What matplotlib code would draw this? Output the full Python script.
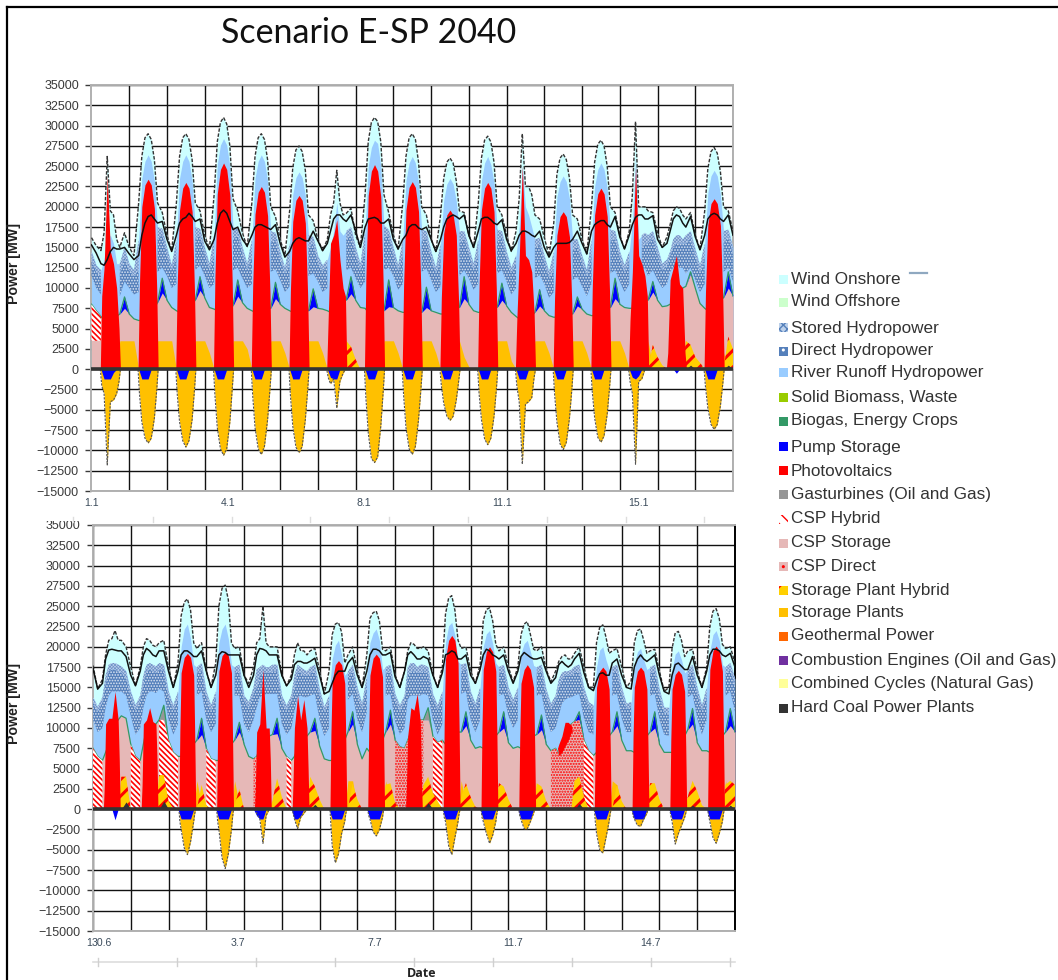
import numpy as np
import matplotlib
matplotlib.use("Agg")
import matplotlib.pyplot as plt
from matplotlib.patches import Rectangle
from matplotlib.lines import Line2D
from matplotlib.transforms import Bbox

# All values below are in units of 100 MW.
# Day rows use the hours 0,3,6,8,10,12,14,16,18,21.
HOURS = [0, 3, 6, 8, 10, 12, 14, 16, 18, 21]
# Solar-day rows (photovoltaics and negative storage) use these hours, zero at both ends.
TOP_SUN_HOURS = [5.6, 6.5, 8, 10, 12, 14, 16, 17.5, 18.4]
BOT_SUN_HOURS = [6.6, 7.2, 8, 10, 12, 14, 16, 16.7, 17.3]
N_DAYS = 17

top_total = [
 [162,152,146,168,262,195,190,160,150,168],[150,140,205,262,285,290,283,258,205,193],
 [165,146,205,262,285,290,283,258,205,195],[165,148,215,280,304,310,302,275,210,195],
 [168,150,205,262,285,290,283,258,200,188],[160,140,195,248,270,275,268,245,190,183],
 [160,146,160,190,205,245,205,190,192,198],[165,150,215,280,304,310,305,280,215,193],
 [165,148,205,262,285,290,283,255,200,190],[160,145,190,235,255,260,254,232,195,193],
 [165,150,205,260,282,287,280,255,200,190],[165,145,170,210,290,225,225,215,190,185],
 [162,140,180,240,260,265,258,235,190,185],[160,142,200,255,277,282,275,250,200,193],
 [165,148,170,215,305,200,200,200,195,193],[168,150,163,178,195,200,198,190,185,193],
 [165,148,195,247,268,273,266,243,200,195]]
top_total_end = 170
top_hydro = [
 [145,128,122,135,160,165,155,130,130,150],[130,122,160,235,256,264,256,232,175,173],
 [150,128,160,235,256,264,256,232,175,173],[150,130,165,252,276,284,276,250,175,173],
 [150,130,160,235,256,264,256,232,170,168],[145,125,155,215,236,243,236,214,165,163],
 [140,128,135,150,170,205,170,165,170,175],[150,130,170,250,273,282,278,250,177,172],
 [150,128,160,232,254,262,254,230,172,170],[145,125,155,208,228,235,228,207,170,170],
 [150,130,160,232,254,262,252,230,172,170],[145,125,140,175,250,200,190,175,160,162],
 [140,120,145,212,231,238,231,210,160,160],[140,122,160,225,246,254,246,223,172,170],
 [145,128,145,180,260,160,165,168,165,170],[150,130,135,145,160,165,165,160,165,170],
 [148,128,155,217,238,245,238,215,170,172]]
top_hydro_end = 150
top_csp = [
 [80,72,65,60,60,60,60,65,68,75],[68,62,60,60,60,65,70,75,82,94],
 [85,76,72,70,70,70,75,80,85,97],[88,76,74,72,72,72,75,78,78,90],
 [82,75,72,70,70,70,75,75,75,87],[80,75,72,70,70,70,72,72,72,77],
 [75,74,72,70,70,70,80,85,85,93],[85,76,75,70,70,70,70,72,72,77],
 [76,72,70,70,70,70,70,70,70,76],[72,70,68,68,68,70,72,75,76,87],
 [80,72,70,70,70,72,75,75,76,85],[78,70,65,62,60,60,62,65,70,78],
 [72,66,64,64,64,66,68,68,68,78],[74,68,66,66,66,70,72,75,76,87],
 [80,76,75,75,75,80,85,85,85,95],[85,77,78,80,85,90,95,100,102,118],
 [100,81,75,72,70,72,75,85,88,100]]
top_csp_end = 90
top_load = [
 [153,143,130,128,135,145,150,148,148,150],[142,135,140,165,180,188,190,185,180,182],
 [160,145,165,180,185,187,192,188,182,185],[158,147,160,180,192,196,192,182,172,175],
 [160,152,165,175,178,178,176,174,172,178],[155,138,145,155,160,162,160,158,158,170],
 [158,146,155,170,185,190,190,185,182,190],[170,150,175,185,186,187,185,180,180,185],
 [160,148,160,165,175,178,178,174,172,175],[160,145,160,175,185,188,190,188,185,190],
 [165,150,170,185,187,187,184,180,178,184],[160,146,155,165,170,170,168,165,163,170],
 [150,138,150,155,155,155,155,156,160,170],[155,142,170,178,181,183,183,178,175,188],
 [163,148,165,178,187,190,190,185,185,189],[160,150,155,170,185,190,188,180,175,188],
 [163,147,165,185,190,192,190,185,182,190]]
top_load_end = 165
# hours 0,3,6,18,21
top_direct_hi = [
 [135,120,115,118,138],[122,115,122,160,165],[142,122,138,160,165],[142,123,140,160,165],
 [142,123,138,156,160],[137,118,132,150,155],[132,120,128,160,165],[142,123,150,162,164],
 [142,122,140,158,162],[137,118,137,155,162],[142,123,140,158,162],[137,118,130,150,154],
 [132,113,122,146,152],[132,115,140,158,162],[137,120,135,155,162],[142,122,128,155,162],
 [140,120,138,155,164]]
top_direct_hi_end = 142
top_direct_lo = [
 [115,100,92,90,108],[100,92,95,120,125],[115,100,105,122,128],[115,100,105,122,125],
 [112,100,105,120,123],[110,95,102,115,118],[108,95,100,122,125],[112,100,108,122,125],
 [115,98,105,120,124],[110,95,102,115,122],[112,98,105,118,122],[108,92,100,112,116],
 [105,88,95,110,114],[102,90,105,118,122],[108,95,105,115,122],[110,100,105,118,125],
 [110,95,105,120,125]]
top_direct_lo_end = 108
# cloudy days: hours 8,10,12,14,16
top_day_direct_hi = {14: [None,None,None,150,155], 15: [140,150,155,155,155]}
top_day_direct_lo = {14: [None,None,None,120,125], 15: [120,125,130,125,125]}
# inner seven hours of TOP_SUN_HOURS
top_pv = [
 [90,125,240,145,130,100,50],[105,200,227,234,227,198,98],[103,196,223,230,223,194,97],
 [114,216,246,254,246,214,107],[101,191,218,225,218,189,95],[96,182,208,214,208,180,90],
 [60,155,165,184,135,100,90],[113,214,244,252,244,212,106],[104,196,224,231,224,194,97],
 [88,167,190,196,190,165,82],[103,196,223,230,223,194,97],[60,135,250,140,135,120,70],
 [87,165,188,194,188,163,81],[100,190,216,223,216,188,94],[60,120,250,140,130,115,90],
 [20,110,125,140,105,100,20],[95,178,204,210,204,177,88]]
top_neg_storage = [
 [-20,-30,-118,-40,-38,-30,-15],[-30,-65,-85,-91,-85,-60,-25],[-30,-65,-88,-96,-88,-62,-25],
 [-32,-72,-98,-106,-98,-65,-25],[-32,-72,-98,-105,-95,-62,-25],[-32,-70,-96,-103,-95,-62,-25],
 [-10,-18,-12,-48,-15,-5,0],[-35,-78,-110,-115,-108,-70,-28],[-32,-72,-98,-105,-95,-62,-25],
 [-20,-42,-58,-63,-58,-38,-15],[-30,-62,-86,-93,-85,-58,-25],[-20,-40,-117,-43,-40,-35,-10],
 [-30,-65,-92,-99,-90,-60,-25],[-28,-60,-84,-90,-82,-55,-22],[-15,-30,-117,-15,-12,0,0],
 [0,0,0,0,0,0,0],[-22,-48,-68,-74,-68,-45,-18]]
# hours 8,10,12,14,16
top_neg_pump = [
 [12,12,12,4,0],[12,12,12,0,0],[12,12,12,0,0],[12,12,12,0,0],[12,12,12,0,0],[12,12,12,0,0],
 [10,12,12,0,0],[12,12,12,0,0],[12,12,12,0,0],[12,12,12,0,0],[12,12,12,0,0],[12,12,12,0,0],
 [12,12,12,0,0],[12,12,12,0,0],[10,12,8,0,0],[0,0,5,0,0],[12,12,12,0,0]]
# hours 18,21,24,27
top_storage = [
 [35,35,35,35],[35,35,35,35],[35,35,35,20],[35,35,35,25],[35,35,35,20],[35,35,35,20],
 [0,0,0,0],[35,35,35,20],[35,35,35,20],[35,15,3,0],[35,35,35,10],[35,35,35,20],
 [35,35,35,20],[35,35,35,20],[35,0,0,0],[0,0,0,0],[20,0,0,0]]
top_hybrid = [
 [0,0,0,0],[0,0,0,0],[0,0,0,0],[0,0,0,0],[0,0,0,0],[0,0,0,0],
 [35,28,12,0],[0,0,0,0],[0,0,0,0],[0,0,0,0],[0,0,0,0],[0,0,0,0],
 [0,0,0,0],[0,0,0,0],[0,30,15,5],[35,30,15,8],[0,40,25,0]]
top_pump_peak = [89,112,114,110,107,99,114,110,101,114,106,98,89,112,108,120,120]
top_gas_peak = [0]*17
top_coal_peak = [0,0,0,0,0,0,0,0,0,0,0,0,0,0,0,5,5]
top_csp_hybrid_days = [(0.0, 0.25)]
top_csp_direct_days = []

bot_total = [
 [177,148,160,190,208,210,220,208,208,200],[175,152,175,200,210,208,202,200,205,208],
 [175,150,180,238,255,259,245,205,198,205],[170,150,180,250,272,276,258,205,198,200],
 [165,155,175,205,210,250,205,200,200,200],[165,152,165,190,205,195,195,190,195,198],
 [170,142,170,215,228,230,218,180,190,200],[170,150,190,235,242,244,232,197,195,200],
 [165,150,170,195,205,203,198,198,200,195],[165,150,175,240,260,263,245,208,198,200],
 [170,155,178,232,246,248,232,203,195,200],[175,157,175,215,228,231,215,197,195,200],
 [172,157,170,182,188,190,185,185,192,200],[175,150,150,205,224,227,212,192,195,198],
 [175,150,158,205,220,222,208,192,195,197],[170,145,150,198,217,219,208,188,195,197],
 [170,150,175,225,244,247,235,203,198,200]]
bot_total_end = 180
bot_hydro = [
 [138,126,138,165,178,180,180,178,176,170],[145,128,140,165,178,180,178,176,180,178],
 [145,128,145,200,222,228,210,178,175,180],[145,128,145,205,222,228,210,178,175,178],
 [140,132,150,172,175,178,175,175,178,178],[140,128,140,165,178,175,172,170,175,178],
 [148,126,140,185,202,208,190,165,170,178],[150,130,165,205,217,222,208,172,175,178],
 [142,128,140,175,180,180,175,178,178,175],[142,128,145,205,226,230,214,182,178,180],
 [145,130,150,200,216,220,204,180,175,178],[150,135,150,192,204,208,194,177,175,178],
 [148,130,140,160,168,170,170,172,176,178],[150,132,128,175,196,200,184,172,175,178],
 [150,130,132,178,194,198,184,172,175,178],[148,125,125,172,191,195,184,168,172,178],
 [150,128,150,195,215,220,208,178,175,180]]
bot_hydro_end = 160
bot_csp = [
 [75,65,60,70,80,90,105,110,115,112],[80,65,60,80,100,105,105,105,110,110],
 [85,70,65,65,65,65,70,80,85,92],[75,62,60,60,60,65,70,80,85,95],
 [80,65,62,65,75,85,90,90,92,93],[75,65,60,65,75,85,90,90,95,97],
 [78,62,60,60,60,65,70,85,95,105],[80,62,75,70,70,70,75,85,95,105],
 [85,77,75,85,95,100,105,110,110,110],[90,82,85,80,80,80,85,95,95,103],
 [85,75,77,75,75,75,80,90,95,100],[82,75,77,75,75,75,80,90,92,98],
 [80,72,75,68,70,85,100,105,108,110],[85,72,66,70,70,72,80,90,95,103],
 [85,72,72,70,70,70,80,90,95,100],[80,70,70,70,70,70,80,90,98,105],
 [82,72,72,70,70,72,80,90,95,103]]
bot_csp_end = 95
bot_load = [
 [173,148,155,185,196,197,196,195,195,188],[165,152,170,190,198,195,190,188,195,195],
 [170,150,170,190,195,195,192,188,188,195],[170,150,165,190,194,193,190,190,190,190],
 [165,150,165,190,198,197,195,190,190,190],[165,152,160,178,182,182,180,180,182,186],
 [165,142,145,155,165,170,170,170,180,187],[165,150,170,190,197,197,195,190,190,193],
 [163,150,170,190,194,190,185,185,188,185],[165,150,168,190,192,195,193,185,185,190],
 [165,155,172,190,197,195,190,188,185,190],[170,155,170,188,193,190,187,185,185,187],
 [170,155,162,178,182,178,175,178,185,192],[168,150,146,158,167,168,165,165,180,185],
 [165,150,148,175,185,190,185,182,185,190],[165,145,142,165,178,180,176,172,172,188],
 [165,150,170,190,197,197,195,190,188,192]]
bot_load_end = 175
bot_direct_hi = [
 [132,120,132,168,162],[138,122,134,172,170],[138,122,138,167,172],[138,122,138,167,170],
 [133,125,142,170,170],[133,122,133,167,170],[140,120,133,162,170],[142,124,155,167,170],
 [135,122,133,170,167],[135,122,138,170,172],[138,124,142,167,170],[142,128,142,167,170],
 [140,124,133,168,170],[142,125,122,167,170],[142,124,125,167,170],[140,119,119,164,170],
 [142,122,142,167,172]]
bot_direct_hi_end = 152
bot_direct_lo = [
 [110,95,100,145,140],[115,92,100,148,145],[110,92,105,140,145],[110,95,105,140,140],
 [105,95,110,142,142],[105,92,100,140,142],[110,90,100,135,142],[110,95,120,140,142],
 [108,92,100,142,140],[110,92,105,142,145],[110,95,110,140,142],[115,100,110,140,142],
 [112,95,100,140,142],[112,95,92,140,142],[112,95,95,140,142],[110,92,90,138,142],
 [112,92,110,140,145]]
bot_direct_lo_end = 120
bot_day_direct_hi = {0: [155,170,172,172,170], 1: [155,170,172,170,168], 4: [150,165,168,168,168],
    5: [150,168,168,165,165], 8: [165,170,170,168,168], 12: [150,160,165,165,165]}
bot_day_direct_lo = {0: [125,140,145,145,145], 1: [125,140,145,145,143], 4: [125,138,140,142,142],
    5: [120,138,140,138,138], 8: [135,140,140,140,140], 12: [115,130,135,137,138]}
bot_pv = [
 [30,105,112,112,145,110,60],[30,105,110,125,108,105,60],[96,168,187,192,187,165,86],
 [97,170,189,194,189,168,87],[30,95,105,172,100,100,60],[40,100,140,110,135,100,50],
 [92,158,178,183,178,155,82],[95,165,186,191,186,163,86],[30,90,125,122,142,108,40],
 [107,185,208,214,208,180,96],[100,172,194,200,194,170,90],[89,155,172,178,172,150,80],
 [75,80,90,107,107,103,95],[88,150,170,175,170,148,79],[88,150,170,175,170,148,79],
 [85,148,166,171,166,145,77],[100,172,195,201,195,170,90]]
bot_pv_floor_day = 12
bot_pv_floor = [75,66,70,78,85,95,95]
bot_neg_storage = [
 [0,0,0,0,0,0,0],[0,0,0,0,0,0,0],[-15,-25,-48,-56,-40,-15,-5],[-15,-25,-60,-73,-55,-25,-10],
 [0,-5,-12,-42,-8,0,0],[-5,-12,-24,-10,-5,0,0],[-20,-45,-66,-55,-30,-15,-5],
 [-8,-12,-28,-33,-25,-10,0],[0,0,0,0,0,0,0],[-10,-15,-45,-56,-35,-15,-5],[-10,-15,-30,-42,-32,-15,-5],
 [-8,-13,-24,-24,-15,-5,0],[0,0,0,0,0,0,0],[-15,-30,-50,-54,-35,-15,-5],[-8,-12,-20,-21,-12,-5,0],
 [-8,-15,-43,-30,-20,-10,-5],[-8,-15,-35,-42,-30,-15,-5]]
bot_neg_pump = [
 [0,0,0,13,0],[0,0,0,0,0],[12,12,12,12,0],[12,12,12,12,0],[8,12,12,0,0],[12,12,8,0,0],
 [12,12,12,12,0],[12,12,12,12,0],[0,0,0,0,0],[12,12,12,12,0],[12,12,12,12,0],[12,12,12,12,0],
 [0,0,0,0,0],[12,12,12,12,0],[12,12,12,12,0],[12,12,12,12,0],[12,12,12,12,0]]
bot_storage = [
 [0,0,0,0],[0,0,0,0],[35,5,0,0],[35,5,0,0],[0,0,0,0],[0,0,0,0],[35,35,0,0],[35,0,0,0],
 [0,0,0,0],[35,5,0,0],[0,0,0,0],[0,0,0,0],[0,0,0,0],[35,30,0,0],[0,0,0,0],[0,0,0,0],[35,5,0,0]]
bot_hybrid = [
 [40,40,0,0],[42,42,10,0],[0,30,5,0],[5,25,0,0],[10,38,15,0],[40,28,12,0],[0,32,12,0],
 [30,32,8,0],[30,40,20,10],[15,32,15,3],[32,28,12,0],[32,28,10,0],[35,40,15,0],[0,30,10,0],
 [32,32,12,0],[15,35,22,5],[30,35,30,0]]
bot_pump_peak = [112,110,112,107,112,112,120,122,110,120,120,116,120,120,120,124,124]
bot_gas_peak = [0,128,0,0,0,0,0,0,125,0,0,0,0,0,0,0,0]
bot_coal_peak = [9,10,0,0,0,6,0,0,8,0,0,0,7,0,0,5,5]
bot_csp_hybrid_days = [(0.0,0.33),(0.94,1.32),(1.75,2.25),(2.92,3.28),(5.09,5.31),(9.0,9.28),(13.0,13.3)]
bot_csp_direct_days = [(4.25,4.4),(7.95,8.75),(12.1,13.0)]

legend_names = ["Wind Onshore","Wind Offshore","Stored Hydropower","Direct Hydropower",
    "River Runoff Hydropower","Solid Biomass, Waste","Biogas, Energy Crops","Pump Storage",
    "Photovoltaics","Gasturbines (Oil and Gas)","CSP Hybrid","CSP Storage","CSP Direct",
    "Storage Plant Hybrid","Storage Plants","Geothermal Power","Combustion Engines (Oil and Gas)",
    "Combined Cycles (Natural Gas)","Hard Coal Power Plants"]
legend_rows_y = [279,302,328,351,373,398,421,447,471,495,519,543,566,590,613,636,660,683,708]
top_date_labels = ["1.1","4.1","8.1","11.1","15.1"]
top_date_pos = [0.0,3.62,7.22,10.87,14.49]
bot_date_labels = ["30.6","3.7","7.7","11.7","14.7"]
bot_date_pos = [0.24,3.84,7.47,11.13,14.76]

C_WIND="#ccffff"; C_RIVER="#99ccff"; C_DIRECT="#5580bb"; C_STORED="#bcd0ea"
C_PUMP="#0000ff"; C_PV="#ff0000"; C_GAS="#969696"; C_CSP="#e6b8b7"; C_STOR="#ffc000"
C_COAL="#333333"; C_GREEN="#339966"; C_HYB="#ffd000"; TXT="#3a3a3a"

W, H = 1058, 980
plt.rcParams['font.family'] = ['Liberation Sans', 'DejaVu Sans']
plt.rcParams['hatch.linewidth'] = 1.0
fig = plt.figure(figsize=(W/100, H/100), dpi=100)
t = np.array([d + h/24 for d in range(N_DAYS) for h in HOURS] + [float(N_DAYS)])

def px_axes(l, r, top, bot):
    return fig.add_axes([l/W, 1-bot/H, (r-l)/W, (bot-top)/H])

def flat(rows, end):
    return np.array([v for row in rows for v in row] + [end], float) * 100

def sparse(rows, cols, fill=0.0):
    a = np.full(t.size, fill, float)
    for d, row in enumerate(rows):
        for c, v in zip(cols, row):
            i = d*10 + c
            if i < t.size:
                a[i] = v*100
    return a

def peak(values):
    a = np.zeros(t.size)
    for d, v in enumerate(values):
        a[d*10+9] = v*100
    return a

def hatched(coll, lw):
    coll._hatch_linewidth = lw
    return coll

def sun_series(rows, hours):
    """Times and values of a solar-day table, closed with zeros at each day's ends."""
    ts, vs = [], []
    for d, row in enumerate(rows):
        ts += [d + h/24 for h in hours]
        vs += [0.0] + [v*100 for v in row] + [0.0]
    return np.array(ts), np.array(vs)

def draw(ax, p):
    T = flat(p['total'], p['total_end']); Hy = flat(p['hydro'], p['hydro_end'])
    C = flat(p['csp'], p['csp_end']); L = flat(p['load'], p['load_end'])
    dh = sparse(p['dhi'], [0,1,2,8,9], np.nan); dh[-1] = p['dhi_end']*100
    dl = sparse(p['dlo'], [0,1,2,8,9], np.nan); dl[-1] = p['dlo_end']*100
    for table, arr in ((p['day_hi'], dh), (p['day_lo'], dl)):
        for d, row in table.items():
            for c, v in zip([3,4,5,6,7], row):
                if v is not None:
                    arr[d*10+c] = v*100
    tpv, pv = sun_series(p['pv'], p['sun_hours'])
    floor = np.zeros(tpv.size)
    if 'floor' in p:
        i0 = p['floor_day']*len(p['sun_hours']) + 1
        floor[i0:i0+7] = np.array(p['floor'])*100
    tns, ns = sun_series(p['neg_storage'], p['sun_hours'])
    np_ = -sparse(p['neg_pump'], [3,4,5,6,7])
    st = sparse(p['storage'], [8,9,10,11]); hy = sparse(p['hybrid'], [8,9,10,11])
    pk = peak(p['pump']); gas = peak(p['gas']); coal = peak(p['coal'])
    P = np.where(pk > 0, np.maximum(pk, C), C)

    ax.fill_between(t, 0, T, color=C_WIND, lw=0, zorder=2)
    ax.fill_between(t, 0, Hy, color=C_RIVER, lw=0, zorder=3)
    hatched(ax.fill_between(t, dl, dh, facecolor=C_DIRECT, edgecolor="#dfe8f5", hatch="......",
                            lw=0, zorder=4), 0.8)
    hatched(ax.fill_between(t, dh, Hy, where=~np.isnan(dh), facecolor=C_STORED, edgecolor="#6f93c8",
                            hatch="xxxxxxxxxx", lw=0, zorder=4), 0.5)
    ax.fill_between(t, 0, C, color=C_CSP, lw=0, zorder=5)
    ax.fill_between(t, C, P, color=C_PUMP, lw=0, zorder=6)
    ax.fill_between(t, C, np.maximum(gas, C), color=C_GAS, lw=0, zorder=6)
    ax.plot(t, np.maximum(np.maximum(P, gas), C), color=C_GREEN, lw=0.9, zorder=7)
    for a, b in p['csp_hybrid']:
        m = (t >= a-1e-9) & (t <= b+1e-9)
        hatched(ax.fill_between(t, np.where(m, p.get('hyb_base', 0), np.nan), np.where(m, C, np.nan),
                        facecolor="white", edgecolor=C_PV, hatch="\\\\\\\\\\\\", lw=0, zorder=7), 1.2)
    for a, b in p['csp_direct']:
        m = (t >= a-1e-9) & (t <= b+1e-9)
        ax.fill_between(t, np.where(m, 0, np.nan), np.where(m, C, np.nan),
                        facecolor=C_CSP, edgecolor=C_PV, hatch="......", lw=0, zorder=7)
    ax.fill_between(t, 0, st, color=C_STOR, lw=0, zorder=8)
    hatched(ax.fill_between(t, st*0, hy, facecolor=C_HYB, edgecolor=C_PV, hatch="//",
                    lw=0, zorder=8.5), 2.2)
    ax.fill_between(t, 0, coal, color=C_COAL, lw=0, zorder=9)
    ax.fill_between(tpv, floor, pv, color=C_PV, lw=0, zorder=10)
    ax.fill_between(tns, 0, ns, color=C_STOR, lw=0, zorder=10)
    ax.fill_between(t, 0, np_, color=C_PUMP, lw=0, zorder=11)
    ax.plot(tns, ns, color="#555555", lw=0.8, ls=(0, (2, 1.2)), zorder=11)
    ax.plot(t, T, color="#333333", lw=1.0, ls=(0, (2.5, 1.2)), zorder=12)
    ax.plot(t, L, color="#111111", lw=1.1, zorder=13)
    ax.axhline(0, color=C_COAL, lw=2.6, zorder=14)

    ax.set_xlim(0, N_DAYS); ax.set_ylim(-15000, 35000)
    ax.set_yticks(np.arange(-15000, 35001, 2500))
    ax.set_xticks(p['date_pos']); ax.set_xticklabels(p['date_labels'])
    ax.set_xticks(np.arange(0, N_DAYS+1), minor=True)
    ax.grid(True, axis='y', color='#111111', lw=1.0, zorder=1)
    ax.grid(True, axis='x', which='minor', color='#111111', lw=1.0, zorder=1)
    ax.set_axisbelow(True)
    ax.tick_params(axis='y', labelsize=9, colors=TXT, length=4, width=1, pad=5)
    ax.tick_params(axis='x', which='major', labelsize=7.6, colors="#3a4a5a", length=0, pad=5)
    ax.tick_params(axis='x', which='minor', length=0)
    for s in ax.spines.values():
        s.set_color("#b0b0b0"); s.set_linewidth(1.4)
    ax.spines['right'].set_color(p.get('right', "#b0b0b0"))

ax1 = px_axes(91.5, 733, 85, 491)
ax2 = px_axes(93, 735, 525, 931)
draw(ax1, dict(total=top_total,total_end=top_total_end,hydro=top_hydro,hydro_end=top_hydro_end,
    csp=top_csp,csp_end=top_csp_end,load=top_load,load_end=top_load_end,dhi=top_direct_hi,
    dhi_end=top_direct_hi_end,dlo=top_direct_lo,dlo_end=top_direct_lo_end,
    day_hi=top_day_direct_hi,day_lo=top_day_direct_lo,pv=top_pv,sun_hours=TOP_SUN_HOURS,
    neg_storage=top_neg_storage,neg_pump=top_neg_pump,storage=top_storage,hybrid=top_hybrid,
    pump=top_pump_peak,gas=top_gas_peak,coal=top_coal_peak,csp_hybrid=top_csp_hybrid_days,
    csp_direct=top_csp_direct_days,hyb_base=3500,date_pos=top_date_pos,date_labels=top_date_labels))
draw(ax2, dict(total=bot_total,total_end=bot_total_end,hydro=bot_hydro,hydro_end=bot_hydro_end,
    csp=bot_csp,csp_end=bot_csp_end,load=bot_load,load_end=bot_load_end,dhi=bot_direct_hi,
    dhi_end=bot_direct_hi_end,dlo=bot_direct_lo,dlo_end=bot_direct_lo_end,
    day_hi=bot_day_direct_hi,day_lo=bot_day_direct_lo,pv=bot_pv,sun_hours=BOT_SUN_HOURS,
    floor=bot_pv_floor,floor_day=bot_pv_floor_day,
    neg_storage=bot_neg_storage,neg_pump=bot_neg_pump,storage=bot_storage,hybrid=bot_hybrid,
    pump=bot_pump_peak,gas=bot_gas_peak,coal=bot_coal_peak,csp_hybrid=bot_csp_hybrid_days,
    csp_direct=bot_csp_direct_days,date_pos=bot_date_pos,date_labels=bot_date_labels,right="black"))

# top tick label of the lower panel is cut off in the reference
for lab in ax2.get_yticklabels():
    if lab.get_text().startswith("35"):
        lab.set_clip_on(True)
        lab.set_clip_box(Bbox([[0, 0], [W, H-521]]))

def ftext(x, y, s, **kw):
    return fig.text(x/W, 1-y/H, s, **kw)

def fline(xs, ys, **kw):
    fig.add_artist(Line2D([x/W for x in xs], [1-y/H for y in ys], transform=fig.transFigure, **kw))

ftext(369, 33, "Scenario E-SP 2040", family="Lato", fontsize=24.5, ha="center", va="center", color="#111111")
ftext(14, 264, "Power [MW]", rotation=90, fontsize=10.2, fontweight="bold", ha="center", va="center", color="#222222")
ftext(14, 704, "Power [MW]", rotation=90, fontsize=10.2, fontweight="bold", ha="center", va="center", color="#222222")
ftext(422, 973, "Date", family="Open Sans", fontsize=9, fontweight="bold", ha="center", va="center", color="#222222")
ftext(89, 943, "1", fontsize=7.6, ha="center", va="center", color="#3a4a5a")

# axis decorations between and below the panels
fline([93, 735], [962, 962], color="#dddddd", lw=1.2)
for x in [98, 177, 256, 335, 414, 493, 572, 651, 730]:
    fline([x, x], [958, 966], color="#d0d0d0", lw=1.0)
for x in [73, 153, 232, 310, 389, 468, 547, 626, 704]:
    fline([x, x], [517, 522], color="#dddddd", lw=1.0)

# outer frame
fline([7, 7], [7, 980], color="black", lw=1.6)
fline([7, 1058], [7, 7], color="black", lw=1.6)

# legend
swatches = [dict(fc=C_WIND), dict(fc="#ccffcc"), dict(fc=C_STORED, ec=C_DIRECT, hatch="xxxx"),
    dict(fc=C_DIRECT, ec="white", hatch=".."), dict(fc=C_RIVER), dict(fc="#99cc00"), dict(fc=C_GREEN),
    dict(fc=C_PUMP), dict(fc=C_PV), dict(fc=C_GAS), dict(fc="white", ec=C_PV, hatch="\\\\\\"),
    dict(fc=C_CSP), dict(fc=C_CSP, ec=C_PV, hatch=".."), dict(fc=C_HYB, ec=C_PV, hatch="//"),
    dict(fc=C_STOR), dict(fc="#ff6600"), dict(fc="#7030a0"), dict(fc="#ffff99"), dict(fc=C_COAL)]
for name, y, sw in zip(legend_names, legend_rows_y, swatches):
    kw = dict(sw); kw.setdefault("ec", "none")
    fig.add_artist(Rectangle((779/W, 1-(y+4.5)/H), 9/W, 9/H, transform=fig.transFigure, lw=0, **kw))
    ftext(791, y, name, fontsize=12.35, ha="left", va="center", color="#333333")
fline([910, 927], [273.5, 273.5], color="#8fa8c0", lw=1.6)

fig.savefig("out.png", dpi=100)
